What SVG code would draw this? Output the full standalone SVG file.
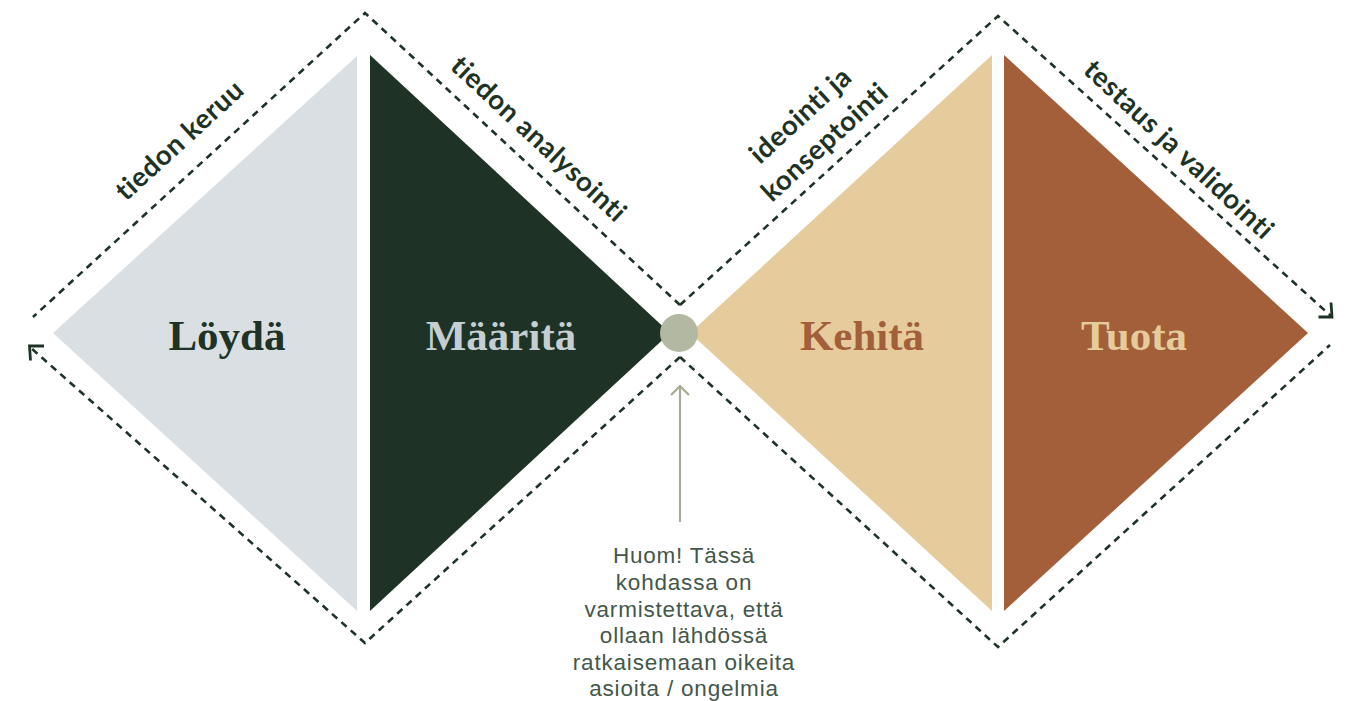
<svg xmlns="http://www.w3.org/2000/svg" width="1348" height="701" viewBox="0 0 1348 701">
  <defs>
    <style>
      .dash { fill: none; stroke: #1e3325; stroke-width: 2.6; stroke-dasharray: 7 5.5; }
      .head { fill: none; stroke: #1e3325; stroke-width: 2.8; }
      .title { font-family: "Liberation Serif", "DejaVu Serif", serif; font-weight: 700; font-size: 43px; text-anchor: middle; }
      .phase { font-family: Lato, "Noto Sans", sans-serif; font-weight: 700; font-size: 27.5px; letter-spacing: 0.6px; fill: #1e3325; }
      .note { font-family: "Liberation Sans", Arial, sans-serif; font-size: 22.5px; letter-spacing: 0.8px; fill: #44574b; text-anchor: middle; }
    </style>
  </defs>
  <rect width="1348" height="701" fill="#ffffff"/>

  <!-- diamond halves -->
  <g id="loyda">
    <polygon points="53,333 357,56 357,611" fill="#dadfe3"/>
    <text class="title" x="227" y="350" fill="#1e3325">Löydä</text>
  </g>
  <g id="maarita">
    <polygon points="370,55 670,333 370,611" fill="#1e3325"/>
    <text class="title" x="501" y="350" fill="#c5cfd3">Määritä</text>
  </g>
  <g id="kehita">
    <polygon points="690,333 992,55 992,611" fill="#e6cc9c"/>
    <text class="title" x="862" y="350" fill="#a35f3a">Kehitä</text>
  </g>
  <g id="tuota">
    <polygon points="1004,55 1308,333 1004,611" fill="#a35f3a"/>
    <text class="title" x="1134" y="350" fill="#e6cc9c">Tuota</text>
  </g>

  <!-- connectors -->
  <g id="connectors">
    <path class="dash" d="M680,305 L365,13 L33,317"/>
    <path class="dash" d="M680,357 L365,643 L31,348"/>
    <path class="dash" d="M680,305 L998,16 L1331,316"/>
    <path class="dash" d="M680,357 L998,647 L1330,345"/>
    <polyline class="head" points="44,346 29.5,346 30.5,360.5"/>
    <polyline class="head" points="1318.5,317 1332,317 1331,302.5"/>
    <line x1="680" y1="522" x2="680" y2="386" stroke="#a9ab94" stroke-width="2.2"/>
    <polyline points="671,395 680,386 689,395" fill="none" stroke="#a9ab94" stroke-width="2.2"/>
  </g>

  <!-- checkpoint -->
  <g id="checkpoint">
    <circle cx="679" cy="333" r="19" fill="#b3b8a3"/>
  </g>

  <!-- phase labels -->
  <g id="labels">
    <text class="phase" transform="translate(126,202) rotate(-42.5)">tiedon keruu</text>
    <text class="phase" transform="translate(449,68) rotate(43)">tiedon analysointi</text>
    <text class="phase" transform="translate(760,165) rotate(-42.5)">ideointi ja</text>
    <text class="phase" transform="translate(772,203) rotate(-42.5)">konseptointi</text>
    <text class="phase" transform="translate(1082,72) rotate(43)">testaus ja validointi</text>
  </g>

  <!-- note -->
  <g id="note">
    <text class="note" x="684" y="563">Huom! Tässä</text>
    <text class="note" x="684" y="590">kohdassa on</text>
    <text class="note" x="684" y="617">varmistettava, että</text>
    <text class="note" x="684" y="643">ollaan lähdössä</text>
    <text class="note" x="684" y="670">ratkaisemaan oikeita</text>
    <text class="note" x="684" y="696">asioita / ongelmia</text>
  </g>
</svg>
